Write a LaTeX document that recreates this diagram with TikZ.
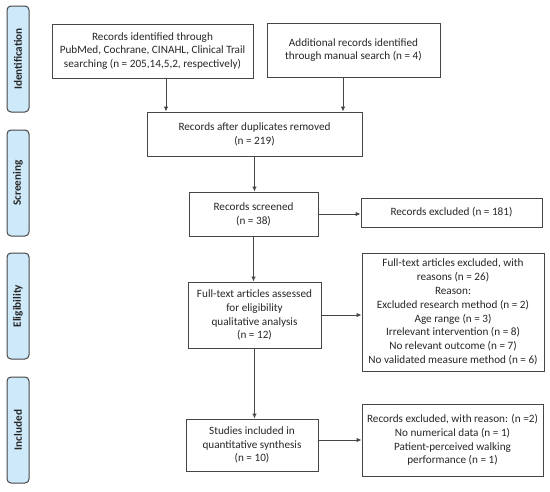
\documentclass[tikz,border=0pt]{standalone}
\usepackage{fontspec}
\setmainfont{Carlito}
\usetikzlibrary{arrows.meta}
\definecolor{sidefill}{RGB}{205,233,250}
\definecolor{linec}{RGB}{70,70,70}
\begin{document}
\begin{tikzpicture}[x=1pt,y=-1pt,
  box/.style={draw=linec, line width=0.9pt, align=center, font=\fontsize{11.2}{13.8}\selectfont, inner sep=2pt, text=black!85},
  side/.style={draw=linec, line width=1pt, fill=sidefill, rounded corners=4pt, rotate=90, minimum width=106pt, minimum height=22pt, font=\bfseries\fontsize{11.2}{12}\selectfont, inner sep=0pt, text=black!85},
  arr/.style={draw=linec, line width=0.9pt, -{Latex[length=5pt,width=4.5pt]}}]
\useasboundingbox (0,0) rectangle (550,491);
% side labels
\node[side] (s1) at (18,59) {Identification};
\node[side] (s2) at (18,183) {Screening};
\node[side] (s3) at (18,306) {Eligibility};
\node[side] (s4) at (18,430) {Included};
% boxes
\node[box, minimum width=201pt, minimum height=54pt] (b1) at (152.5,51) {Records identified through\\PubMed, Cochrane, CINAHL, Clinical Trail\\searching (n = 205,14,5,2, respectively)};
\node[box, minimum width=173pt, minimum height=54pt] (b2) at (353.5,50) {Additional records identified\\through manual search (n = 4)};
\node[box, minimum width=215pt, minimum height=44pt] (b3) at (254.5,134) {Records after duplicates removed\\(n = 219)};
\node[box, minimum width=129pt, minimum height=44pt] (b4) at (253.5,214) {Records screened\\(n = 38)};
\node[box, minimum width=181pt, minimum height=29pt] (b5) at (451.5,212.5) {Records excluded (n = 181)};
\node[box, minimum width=133pt, minimum height=66pt] (b6) at (254.5,315) {Full-text articles assessed\\for eligibility\\qualitative analysis\\(n = 12)};
\node[box, minimum width=182pt, minimum height=118pt] (b7) at (453,312) {Full-text articles excluded, with\\reasons (n = 26)\\Reason:\\Excluded research method (n = 2)\\Age range (n = 3)\\Irrelevant intervention (n = 8)\\No relevant outcome (n = 7)\\No validated measure method (n = 6)};
\node[box, minimum width=132pt, minimum height=52pt] (b8) at (252,445) {Studies included in\\quantitative synthesis\\(n = 10)};
\node[box, minimum width=181pt, minimum height=72pt] (b9) at (452.5,440) {Records excluded, with reason: (n =2)\\No numerical data (n = 1)\\Patient-perceived walking\\performance (n = 1)};
% connectors
\coordinate (x1) at (166,0);
\coordinate (x2) at (343,0);
\draw[arr] (x1 |- b1.south) -- (x1 |- b3.north);
\draw[arr] (x2 |- b2.south) -- (x2 |- b3.north);
\draw[arr] (b3.south) -- (b3.south |- b4.north);
\draw[arr] (b4.east) -- (b4.east -| b5.west);
\draw[arr] (b4.south) -- (b4.south |- b6.north);
\draw[arr] (b6.east) -- (b6.east -| b7.west);
\draw[arr] (b6.south) -- (b6.south |- b8.north);
\draw[arr] (b8.east |- b9.west) -- (b9.west);
\end{tikzpicture}
\end{document}
